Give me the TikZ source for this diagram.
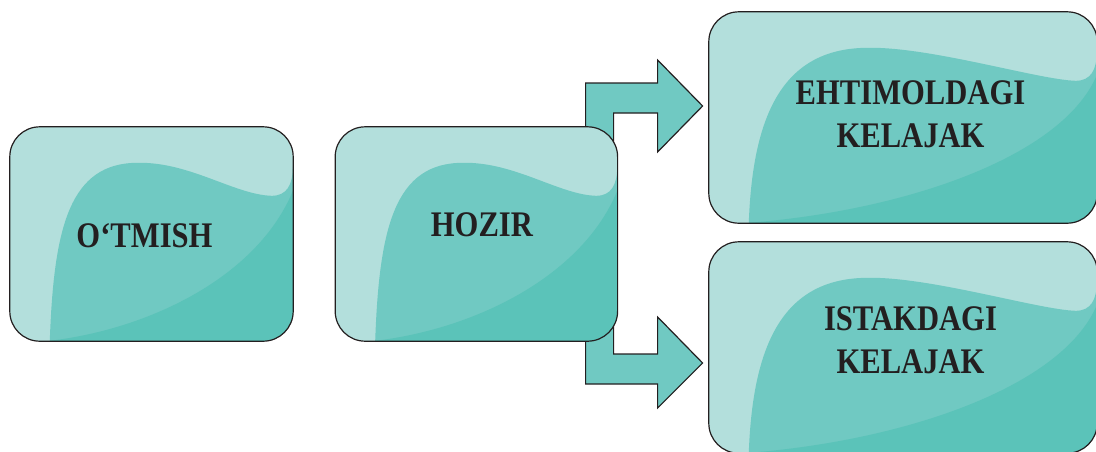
\documentclass[tikz,border=0pt]{standalone}
\usepackage{fontspec}
\usepackage{tikz}
\usetikzlibrary{positioning,backgrounds,calc}
\newfontfamily\boxfont[FakeStretch=0.85]{Liberation Serif}
\definecolor{TealLight}{RGB}{179,223,220}
\definecolor{TealMid}{RGB}{112,201,194}
\definecolor{TealDark}{RGB}{91,195,185}
\definecolor{DarkLine}{RGB}{35,31,32}

\begin{document}
\begin{tikzpicture}[x=1pt, y=-1pt,
    tbox/.style 2 args={rectangle, rounded corners=30pt, fill=TealLight,
        minimum width=#1pt, minimum height=#2pt, inner sep=0pt},
    rim/.style={draw=DarkLine, line width=1.2pt, rounded corners=30pt},
    lbl/.style={font=\boxfont\bfseries\fontsize{36}{43}\selectfont, text=DarkLine,
        align=center, inner sep=0pt},
    barrow/.style={fill=TealMid, draw=DarkLine, line width=1.2pt, line join=miter},
]
\useasboundingbox (0,0) rectangle (1096,451);

\node[tbox={283}{214}] (past) at (151.5,234) {};
\node[tbox={282}{214}, right=42pt of past] (now) {};
\node[tbox={388}{211}] (probable) at (903,117.5) {};
\node[tbox={388}{211}] (desired) at (903,347.5) {};

% glossy waves inside each box
\foreach \b/\w/\h in {past/283/214, now/282/214, probable/388/211, desired/388/211} {
  \begin{scope}
    \clip[rounded corners=30pt] (\b.north west) rectangle (\b.south east);
    \begin{scope}[shift={(\b.north west)}]
      \fill[TealMid] (40,\h) .. controls (44,100) and ({60+(\w-283)*0.15},36)
          .. ({128+(\w-283)*0.3},36)
          .. controls ({180+(\w-283)*0.4},35) and ({\w-58},68) .. ({\w-21},69)
          .. controls ({\w-6},69) and (\w,58) .. (\w,40) -- (\w,\h) -- cycle;
      \fill[TealDark] (40,\h) .. controls ({0.5*\w},{\h-12}) and ({\w-35},{\h-65})
          .. (\w,{0.3*\h}) -- (\w,\h) -- cycle;
    \end{scope}
  \end{scope}
  \draw[rim] (\b.north west) rectangle (\b.south east);
}

\node[lbl] (pastlbl) at ([shift={(-7,2)}]past.center) {O‘TMISH};
\node[lbl] (nowlbl) at ([shift={(5.5,-9)}]now.center) {HOZIR};
\node[lbl] (problbl) at ([shift={(7.5,-3)}]probable.center) {EHTIMOLDAGI\\KELAJAK};
\node[lbl] (deslbl) at ([shift={(7.5,-7)}]desired.center) {ISTAKDAGI\\KELAJAK};

% bent arrows, stems hidden behind the present box
\begin{scope}[on background layer]
\draw[barrow] ([xshift=-32pt]now.east) -- ++(0,-151) -- ++(72,0) -- ++(0,-23) -- ++(45,46)
    -- ++(-45,46) -- ++(0,-39) -- ++(-44,0) -- ++(0,121) -- cycle;
\draw[barrow] ([xshift=-32pt]now.east) -- ++(0,150) -- ++(72,0) -- ++(0,24) -- ++(45,-45)
    -- ++(-45,-46) -- ++(0,37) -- ++(-44,0) -- ++(0,-120) -- cycle;
\end{scope}
\end{tikzpicture}
\end{document}
